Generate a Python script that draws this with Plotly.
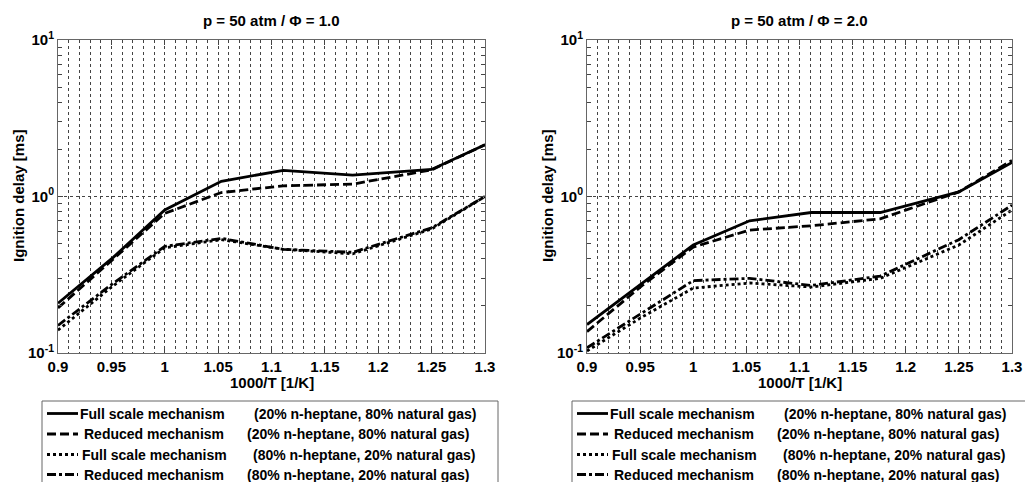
import plotly.graph_objects as go

# 1000/T [1/K]
x_vals = [0.9, 0.952, 1.0, 1.053, 1.111, 1.176, 1.25, 1.3]

# Phi = 1.0 (ignition delay, ms)
phi1_full_20 = [0.208, 0.41, 0.82, 1.25, 1.47, 1.37, 1.49, 2.14]
phi1_red_20 = [0.194, 0.40, 0.78, 1.06, 1.17, 1.20, 1.48, 2.14]
phi1_full_80 = [0.140, 0.27, 0.47, 0.53, 0.46, 0.43, 0.62, 1.00]
phi1_red_80 = [0.150, 0.28, 0.48, 0.54, 0.46, 0.44, 0.63, 1.00]

# Phi = 2.0
phi2_full_20 = [0.152, 0.28, 0.49, 0.70, 0.79, 0.79, 1.07, 1.65]
phi2_red_20 = [0.137, 0.27, 0.475, 0.61, 0.65, 0.72, 1.07, 1.70]
phi2_full_80 = [0.103, 0.17, 0.26, 0.28, 0.264, 0.30, 0.49, 0.82]
phi2_red_80 = [0.108, 0.18, 0.29, 0.30, 0.27, 0.31, 0.53, 0.88]

mech_names = ["Full scale mechanism", "Reduced mechanism",
              "Full scale mechanism", "Reduced mechanism"]
blend_names = ["(20% n-heptane, 80% natural gas)", "(20% n-heptane, 80% natural gas)",
               "(80% n-heptane, 20% natural gas)", "(80% n-heptane, 20% natural gas)"]
dashes = ["solid", "9px,4px", "3px,3px", "9px,3px,3px,3px"]

titles = ["p = 50 atm / \u03a6 = 1.0", "p = 50 atm / \u03a6 = 2.0"]
x_ticks = [0.9, 0.95, 1.0, 1.05, 1.1, 1.15, 1.2, 1.25, 1.3]
x_ticktext = ["0.9", "0.95", "1", "1.05", "1.1", "1.15", "1.2", "1.25", "1.3"]
y_ticks = [0.1, 1, 10]
y_ticktext = ["10<sup>-1</sup>", "10<sup>0</sup>", "10<sup>1</sup>"]

FONT = "Liberation Sans"
W, H = 1025, 482
LW = 2.8

def px(x):
    return x / W

def py(y):
    return (H - y) / H

fig = go.Figure()
series = [
    [phi1_full_20, phi1_red_20, phi1_full_80, phi1_red_80],
    [phi2_full_20, phi2_red_20, phi2_full_80, phi2_red_80],
]
for p, group in enumerate(series):
    for i, ys in enumerate(group):
        fig.add_trace(go.Scatter(
            x=x_vals, y=ys, mode="lines",
            name=mech_names[i] + " " + blend_names[i],
            line=dict(color="black", width=LW, dash=dashes[i]),
            xaxis="x" if p == 0 else "x2",
            yaxis="y" if p == 0 else "y2",
            showlegend=False,
        ))

ydom = [py(353), py(40)]
xdoms = [[px(58), px(485)], [px(587), px(1012)]]

minor_y = [v * 0.1 for v in range(2, 10)] + [float(v) for v in range(2, 10)]

def xaxis_cfg(dom, anchor):
    return dict(
        domain=dom, anchor=anchor, range=[0.9, 1.3], automargin=False,
        tickmode="array", tickvals=x_ticks, ticktext=x_ticktext,
        ticks="inside", ticklen=5, tickcolor="#444", mirror="ticks",
        showline=True, linecolor="#666", linewidth=1,
        showgrid=True, gridcolor="#444", griddash="dot", gridwidth=1,
        minor=dict(dtick=0.01, tick0=0.9, showgrid=True, gridcolor="#444",
                   griddash="dot", gridwidth=1, ticks=""),
        tickfont=dict(family=FONT, size=15, color="black", weight=700),
        zeroline=False,
    )

def yaxis_cfg(anchor):
    return dict(
        domain=ydom, anchor=anchor, type="log", range=[-1, 1], automargin=False,
        tickmode="array", tickvals=y_ticks, ticktext=y_ticktext,
        ticks="inside", ticklen=5, tickcolor="#444", mirror="ticks",
        showline=True, linecolor="#666", linewidth=1,
        showgrid=True, gridcolor="#444", griddash="dot", gridwidth=1,
        minor=dict(tickmode="array", tickvals=minor_y, ticks="inside",
                   ticklen=4, tickcolor="#444", showgrid=False),
        tickfont=dict(family=FONT, size=15, color="black", weight=700),
        zeroline=False,
    )

fig.update_layout(
    width=W, height=H,
    margin=dict(l=0, r=0, t=0, b=0, autoexpand=False),
    paper_bgcolor="white", plot_bgcolor="white",
    xaxis=xaxis_cfg(xdoms[0], "y"),
    yaxis=yaxis_cfg("x"),
    xaxis2=xaxis_cfg(xdoms[1], "y2"),
    yaxis2=yaxis_cfg("x2"),
    showlegend=False,
)

anns = []
shapes = []
for p in range(2):
    cx = (xdoms[p][0] + xdoms[p][1]) / 2
    anns.append(dict(text=titles[p], x=cx, y=py(21),
                     xref="paper", yref="paper", showarrow=False,
                     font=dict(family=FONT, size=15, color="black", weight=700),
                     xanchor="center", yanchor="middle"))
    anns.append(dict(text="1000/T [1/K]", x=cx, y=py(382),
                     xref="paper", yref="paper", showarrow=False,
                     font=dict(family=FONT, size=15, color="black", weight=700),
                     xanchor="center", yanchor="middle"))
    anns.append(dict(text="Ignition delay [ms]",
                     x=px(18 if p == 0 else 547), y=py(196),
                     xref="paper", yref="paper", showarrow=False, textangle=-90,
                     font=dict(family=FONT, size=15, color="black", weight=700),
                     xanchor="center", yanchor="middle"))

# Legend boxes (one under each panel), drawn as a framed key
leg_x0 = [42, 572]
leg_top = 401
row_y = [413.5, 434, 454.5, 474.5]
text1_dx = [37, 41, 39, 41]
text2_dx = [211, 204, 210, 204]
for p in range(2):
    x0 = leg_x0[p]
    shapes.append(dict(type="rect", xref="paper", yref="paper",
                       x0=px(x0), x1=px(x0 + 456 if p == 0 else 1040),
                       y0=py(leg_top), y1=py(495),
                       line=dict(color="#666", width=1), fillcolor="white",
                       layer="above"))
    for i in range(4):
        shapes.append(dict(type="line", xref="paper", yref="paper",
                           x0=px(x0 + 5), x1=px(x0 + 36),
                           y0=py(row_y[i]), y1=py(row_y[i]),
                           line=dict(color="black", width=LW, dash=dashes[i]),
                           layer="above"))
        anns.append(dict(text=mech_names[i], x=px(x0 + text1_dx[i]), y=py(row_y[i]),
                         xref="paper", yref="paper", showarrow=False,
                         font=dict(family=FONT, size=14, color="black", weight=700),
                         xanchor="left", yanchor="middle", borderpad=0))
        anns.append(dict(text=blend_names[i], x=px(x0 + text2_dx[i]), y=py(row_y[i]),
                         xref="paper", yref="paper", showarrow=False,
                         font=dict(family=FONT, size=14, color="black", weight=700),
                         xanchor="left", yanchor="middle", borderpad=0))

fig.update_layout(annotations=anns, shapes=shapes)

fig.write_html("out.html")
